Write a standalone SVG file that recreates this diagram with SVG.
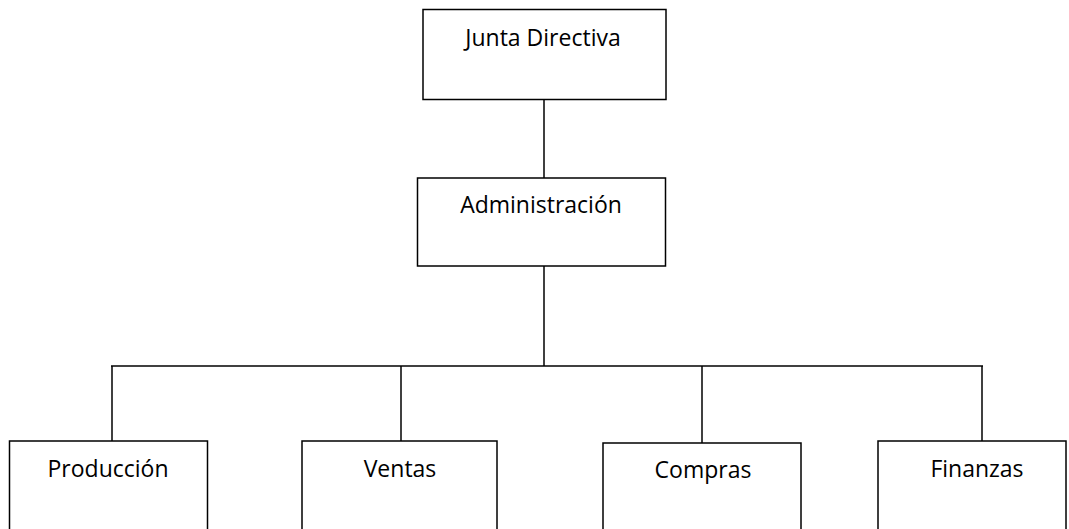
<svg xmlns="http://www.w3.org/2000/svg" width="1069" height="529" viewBox="0 0 1069 529">
<style>
.box{fill:#fff;stroke:#000;stroke-width:1.5}
.lbl{font-family:"Open Sans","Noto Sans",sans-serif;font-size:23px;fill:#000;text-anchor:middle}
.conn{fill:none;stroke:#000;stroke-width:1.5}
</style>
<rect width="1069" height="529" fill="#fff"/>
<g id="connectors">
<line class="conn" x1="544" y1="100" x2="544" y2="178"/>
<line class="conn" x1="544" y1="266" x2="544" y2="366"/>
<line class="conn" x1="111" y1="366" x2="983" y2="366"/>
<line class="conn" x1="112" y1="366" x2="112" y2="441"/>
<line class="conn" x1="401" y1="366" x2="401" y2="441"/>
<line class="conn" x1="702" y1="366" x2="702" y2="443"/>
<line class="conn" x1="982" y1="366" x2="982" y2="441"/>
</g>
<g id="junta">
<rect class="box" x="423" y="9.5" width="243" height="90"/>
<text class="lbl" x="543" y="46">Junta Directiva</text>
</g>
<g id="administracion">
<rect class="box" x="417.5" y="178" width="248" height="88"/>
<text class="lbl" x="541" y="213">Administración</text>
</g>
<g id="produccion">
<rect class="box" x="9.5" y="441" width="198" height="100"/>
<text class="lbl" x="108" y="477">Producción</text>
</g>
<g id="ventas">
<rect class="box" x="302" y="441" width="195" height="100"/>
<text class="lbl" x="400" y="477">Ventas</text>
</g>
<g id="compras">
<rect class="box" x="603" y="443" width="198" height="100"/>
<text class="lbl" x="703" y="478">Compras</text>
</g>
<g id="finanzas">
<rect class="box" x="878" y="441" width="188" height="100"/>
<text class="lbl" x="977" y="477">Finanzas</text>
</g>
</svg>
